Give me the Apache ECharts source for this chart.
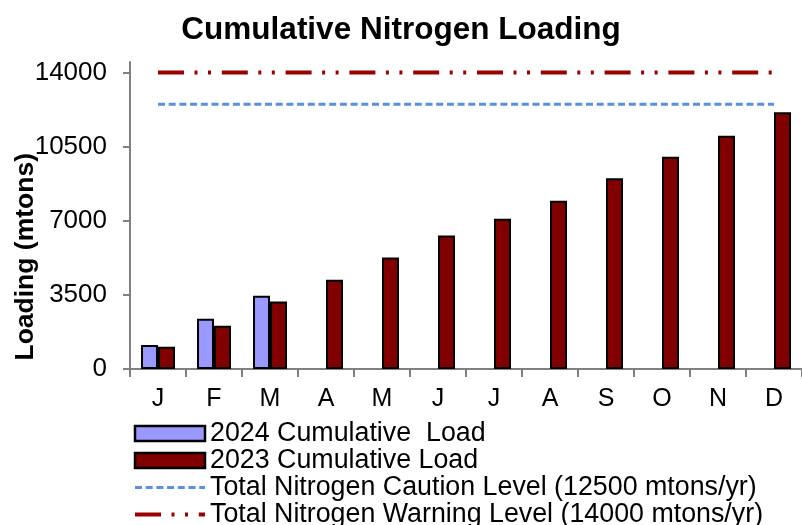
<!DOCTYPE html>
<html>
<head>
<meta charset="utf-8">
<script src="https://cdn.jsdelivr.net/npm/echarts@6/dist/echarts.min.js"></script>
<style>
  html, body { margin: 0; padding: 0; background: #fff; }
  #chart { width: 802px; height: 525px; }
</style>
</head>
<body>
<div id="chart"></div>
<script>
// 月份
const months = ['J', 'F', 'M', 'A', 'M', 'J', 'J', 'A', 'S', 'O', 'N', 'D'];
// 2024 累计负荷（只有前三个月）
const load2024 = [1130, 2370, 3460, null, null, null, null, null, null, null, null, null];
// 2023 累计负荷
const load2023 = [1050, 2040, 3190, 4210, 5270, 6310, 7100, 7950, 9010, 10030, 11020, 12130];
// 警戒线
const cautionLevel = 12500;
const warningLevel = 14000;
const yTicks = [0, 3500, 7000, 10500, 14000];

const FONT = 'Liberation Sans, Arial, sans-serif';

const myChart = echarts.init(document.getElementById('chart'));

const option = {
  animation: false,
  textStyle: { fontFamily: FONT, color: '#000' },
  title: {
    text: 'Cumulative Nitrogen Loading',
    left: 'center',
    top: 9,
    textStyle: { fontSize: 31.5, fontWeight: 'bold', color: '#000', fontFamily: FONT }
  },
  legend: {
    orient: 'vertical',
    left: 128,
    top: 415,
    height: 200,
    itemWidth: 70,
    itemHeight: 15,
    itemGap: 0,
    textStyle: { fontSize: 26.8, lineHeight: 26, color: '#000', fontFamily: FONT },
    data: [
      { name: '2024 Cumulative  Load', icon: 'rect', itemStyle: { borderColor: '#000', borderWidth: 2.5 } },
      { name: '2023 Cumulative Load', icon: 'rect', itemStyle: { borderColor: '#000', borderWidth: 2.5 } },
      { name: 'Total Nitrogen Caution Level (12500 mtons/yr)', itemStyle: { opacity: 0 }, lineStyle: { width: 3 } },
      { name: 'Total Nitrogen Warning Level (14000 mtons/yr)', itemStyle: { opacity: 0 }, lineStyle: { width: 4 } }
    ]
  },
  graphic: [{
    type: 'text',
    left: 12,
    top: 153,
    rotation: Math.PI / 2,
    style: {
      text: 'Loading (mtons)',
      font: 'bold 26.5px ' + FONT,
      fill: '#000'
    }
  }],
  grid: { left: 130, right: 0, top: 62, bottom: 156 },
  xAxis: {
    type: 'category',
    data: months,
    boundaryGap: true,
    axisLine: { lineStyle: { color: '#808080', width: 2 } },
    axisTick: { show: true, length: 8, inside: false, lineStyle: { color: '#808080', width: 2 } },
    axisLabel: { fontSize: 25, color: '#000', margin: 18, fontFamily: FONT }
  },
  yAxis: {
    type: 'value',
    min: 0,
    max: 14500,
    splitLine: { show: false },
    axisLine: { show: true, lineStyle: { color: '#808080', width: 2 } },
    axisTick: { show: true, length: 7, lineStyle: { color: '#808080', width: 2 }, customValues: yTicks },
    axisLabel: {
      fontSize: 26, color: '#000', margin: 23, fontFamily: FONT,
      customValues: yTicks,
      formatter: (v) => String(v)
    }
  },
  series: [
    {
      name: '2024 Cumulative  Load',
      type: 'bar',
      data: load2024,
      barWidth: 17,
      barGap: '0%',
      itemStyle: { color: '#9999ff', borderColor: '#000', borderWidth: 2 }
    },
    {
      name: '2023 Cumulative Load',
      type: 'bar',
      data: load2023,
      barWidth: 17,
      itemStyle: { color: '#800000', borderColor: '#000', borderWidth: 2 }
    },
    {
      name: 'Total Nitrogen Caution Level (12500 mtons/yr)',
      type: 'line',
      data: months.map(() => cautionLevel),
      symbol: 'none',
      lineStyle: { color: '#5b8fe0', width: 3, type: [7, 3.7] },
      itemStyle: { color: '#5b8fe0' }
    },
    {
      name: 'Total Nitrogen Warning Level (14000 mtons/yr)',
      type: 'line',
      data: months.map(() => warningLevel),
      symbol: 'none',
      lineStyle: { color: '#990000', width: 4, type: [26, 10.5, 3, 10.5, 3, 10.8] },
      itemStyle: { color: '#990000' }
    }
  ]
};

myChart.setOption(option);
</script>
</body>
</html>
